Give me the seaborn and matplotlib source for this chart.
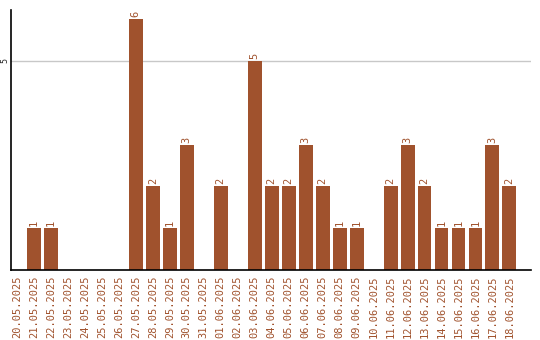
import matplotlib
matplotlib.use("Agg")
import matplotlib.pyplot as plt
import seaborn as sns
import pandas as pd

dates = ["20.05.2025", "21.05.2025", "22.05.2025", "23.05.2025", "24.05.2025",
         "25.05.2025", "26.05.2025", "27.05.2025", "28.05.2025", "29.05.2025",
         "30.05.2025", "31.05.2025", "01.06.2025", "02.06.2025", "03.06.2025",
         "04.06.2025", "05.06.2025", "06.06.2025", "07.06.2025", "08.06.2025",
         "09.06.2025", "10.06.2025", "11.06.2025", "12.06.2025", "13.06.2025",
         "14.06.2025", "15.06.2025", "16.06.2025", "17.06.2025", "18.06.2025"]
counts = [0, 1, 1, 0, 0, 0, 0, 6, 2, 1, 3, 0, 2, 0, 5, 2, 2, 3, 2, 1, 1, 0,
          2, 3, 2, 1, 1, 1, 3, 2]

color = "#A0522D"
df = pd.DataFrame({"date": dates, "count": counts})

sns.set_style("white")
fig = plt.figure(figsize=(5.4, 3.4), dpi=100)
ax = fig.add_axes([11/540, 70/340, 520/540, 260/340])
sns.barplot(data=df, x="date", y="count", color=color, saturation=1,
            width=0.82, ax=ax, zorder=3, linewidth=0)

ax.set_xlim(-0.35, 30.27)
ax.set_ylim(0, 6.22)
ax.set_yticks([5])
ax.set_yticklabels(["5"], rotation=90, va="center", fontsize=6,
                   family="DejaVu Sans Mono")
ax.yaxis.grid(True, color="#c8c8c8", linewidth=1, zorder=0)
ax.tick_params(axis="y", length=0, pad=1)
ax.tick_params(axis="x", length=0, pad=4)
ax.set_xticks(range(len(dates)))
ax.set_xticklabels(dates, rotation=90, fontsize=7.5, color=color,
                   family="DejaVu Sans Mono")
ax.set_xlabel("")
ax.set_ylabel("")
for s in ["top", "right"]:
    ax.spines[s].set_visible(False)
for s in ["left", "bottom"]:
    ax.spines[s].set_color("black")
    ax.spines[s].set_linewidth(1.2)
    ax.spines[s].set_zorder(4)

for i, v in enumerate(counts):
    if v > 0:
        ax.text(i, v + 0.05, str(v), rotation=90, ha="center", va="bottom",
                fontsize=7.5, color=color, family="DejaVu Sans Mono")

fig.savefig("out.png", dpi=100)
